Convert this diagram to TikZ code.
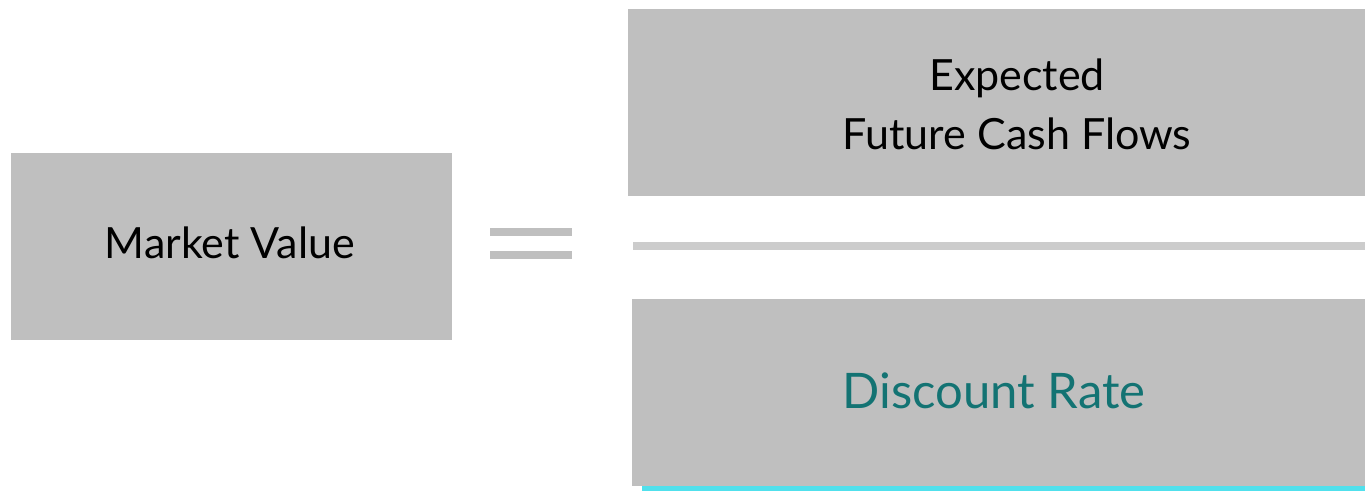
\documentclass[tikz,border=0pt]{standalone}
\usepackage{fontspec}
\setmainfont{Lato}
\definecolor{boxgray}{HTML}{BFBFBF}
\definecolor{linegray}{HTML}{CCCCCC}
\definecolor{teal}{HTML}{137373}
\definecolor{cyanline}{HTML}{50E0EC}
\begin{document}
\begin{tikzpicture}[x=1pt,y=-1pt,
  box/.style={fill=boxgray,draw=none,inner sep=0pt},
  lbl/.style={inner sep=0pt,align=center}]
\useasboundingbox (0,0) rectangle (1365,491);
\fill[cyanline] (642,486) rectangle (1365,491);
\node[box,minimum width=441pt,minimum height=187pt] (mv) at (231.5,246.5) {};
\node[box,minimum width=737pt,minimum height=187pt] (cf) at (996.5,102.5) {};
\node[box,minimum width=733pt,minimum height=187pt] (dr) at (998.5,392.5) {};
\node[lbl,font=\fontsize{43}{59}\selectfont] (mvt) at (230,243) {Market Value};
\node[lbl,font=\fontsize{43}{59}\selectfont] (cft) at (1017,104) {Expected\\Future Cash Flows};
\node[lbl,font=\fontsize{49}{59}\selectfont,text=teal] (drt) at (994,391) {Discount Rate};
\fill[boxgray] (490,228) rectangle (572,236);
\fill[boxgray] (490,251) rectangle (572,259);
\fill[linegray] (633,242) rectangle (1365,250);
\end{tikzpicture}
\end{document}
